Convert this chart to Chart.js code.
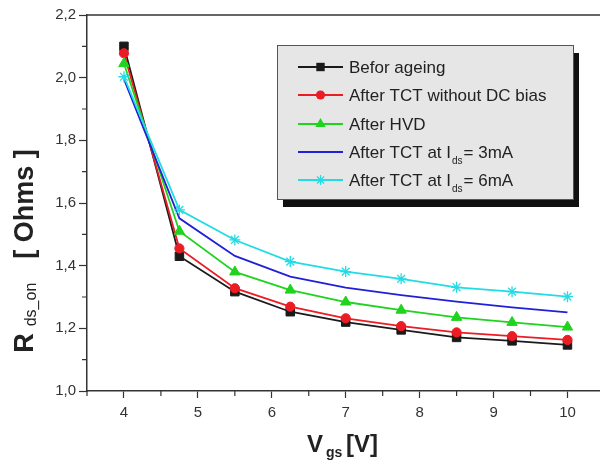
<!DOCTYPE html>
<html>
<head>
<meta charset="utf-8">
<script src="https://cdn.jsdelivr.net/npm/chart.js"></script>
<style>
body { margin: 0; background: #fff; }
#wrap { width: 600px; height: 461px; }
</style>
</head>
<body>
<div id="wrap"><canvas id="my_canvas" width="600" height="461"></canvas></div>
<script>
// Vgs [V]
var vgs = [4, 4.75, 5.5, 6.25, 7, 7.75, 8.5, 9.25, 10];

// Rds_on [Ohms] per condition
var beforAgeing = [2.100, 1.430, 1.317, 1.253, 1.220, 1.195, 1.171, 1.160, 1.147];
var tctNoBias   = [2.078, 1.455, 1.328, 1.269, 1.232, 1.207, 1.187, 1.175, 1.163];
var afterHvd    = [2.045, 1.510, 1.380, 1.322, 1.284, 1.258, 1.235, 1.219, 1.204];
var tct3mA      = [1.995, 1.551, 1.431, 1.365, 1.330, 1.306, 1.285, 1.267, 1.251];
var tct6mA      = [2.003, 1.578, 1.482, 1.413, 1.381, 1.358, 1.331, 1.317, 1.301];

var seriesNames = ['Befor ageing', 'After TCT without DC bias', 'After HVD', 'After TCT at I', 'After TCT at I'];

var FONT = "'Liberation Sans', Arial, sans-serif";

function pts(arr) {
    var out = [];
    for (var i in arr) {
        out.push({x: vgs[i], y: arr[i]});
    }
    return out;
}

function isWhole(v) { return Math.abs(v - Math.round(v)) < 1e-6; }
function isEvenTenth(v) { return Math.round(v * 10) % 2 === 0; }

function drawMarker(ctx, style, x, y, color) {
    ctx.save();
    ctx.fillStyle = color;
    ctx.strokeStyle = color;
    ctx.lineWidth = 1.2;
    ctx.beginPath();
    if (style === 'rect') {
        ctx.fillRect(x - 4.2, y - 4.2, 8.4, 8.4);
    } else if (style === 'circle') {
        ctx.arc(x, y, 4.6, 0, Math.PI * 2);
        ctx.fill();
    } else if (style === 'triangle') {
        ctx.moveTo(x, y - 6);
        ctx.lineTo(x + 5.2, y + 3);
        ctx.lineTo(x - 5.2, y + 3);
        ctx.closePath();
        ctx.fill();
    } else if (style === 'star') {
        for (var k = 0; k < 4; k++) {
            var a = k * Math.PI / 4;
            ctx.moveTo(x - Math.cos(a) * 5, y - Math.sin(a) * 5);
            ctx.lineTo(x + Math.cos(a) * 5, y + Math.sin(a) * 5);
        }
        ctx.stroke();
    }
    ctx.restore();
}

var extras = {
    id: 'extras',
    afterDraw: function(chart) {
        var ctx = chart.ctx;
        var area = chart.chartArea;
        var xs = chart.scales.x, ys = chart.scales.y;
        ctx.save();

        // top frame line
        ctx.strokeStyle = '#333';
        ctx.lineWidth = 1.5;
        ctx.beginPath();
        ctx.moveTo(area.left, area.top);
        ctx.lineTo(area.right, area.top);
        ctx.stroke();

        // minor ticks
        ctx.lineWidth = 1.2;
        ctx.beginPath();
        for (var v = 3.5; v <= 10.45; v += 0.5) {
            if (!isWhole(v)) {
                var px = xs.getPixelForValue(v);
                ctx.moveTo(px, area.bottom);
                ctx.lineTo(px, area.bottom + 5);
            }
        }
        for (var j = 10; j <= 22; j++) {
            if (j % 2 === 1) {
                var py = ys.getPixelForValue(j / 10);
                ctx.moveTo(area.left - 5, py);
                ctx.lineTo(area.left, py);
            }
        }
        ctx.stroke();

        // x axis title
        ctx.fillStyle = '#222';
        ctx.textBaseline = 'alphabetic';
        ctx.textAlign = 'left';
        ctx.font = 'bold 24px ' + FONT;
        ctx.fillText('V', 307, 452);
        ctx.font = 'bold 14px ' + FONT;
        ctx.fillText('gs', 326, 457);
        ctx.font = 'bold 24px ' + FONT;
        ctx.fillText('[V]', 346, 452);

        // y axis title (rotated)
        ctx.save();
        ctx.translate(33, 251);
        ctx.rotate(-Math.PI / 2);
        ctx.font = 'bold 27px ' + FONT;
        var wR = ctx.measureText('R').width;
        ctx.font = '16px ' + FONT;
        var wSub = ctx.measureText('ds_on').width;
        ctx.font = 'bold 27px ' + FONT;
        var wOhm = ctx.measureText('[ Ohms ]').width;
        var total = wR + 7 + wSub + 24 + wOhm;
        var cx = -total / 2;
        ctx.fillText('R', cx, 0);
        cx += wR + 7;
        ctx.font = '16px ' + FONT;
        ctx.fillText('ds_on', cx, 3);
        cx += wSub + 24;
        ctx.font = 'bold 27px ' + FONT;
        ctx.fillText('[ Ohms ]', cx, 0);
        ctx.restore();

        // legend box with shadow
        var bx = 277, by = 45, bw = 296, bh = 154;
        ctx.fillStyle = '#111';
        ctx.fillRect(bx + 6, by + 8, bw, bh);
        ctx.fillStyle = '#e6e6e6';
        ctx.fillRect(bx, by, bw, bh);
        ctx.strokeStyle = '#555';
        ctx.lineWidth = 1;
        ctx.strokeRect(bx + 0.5, by + 0.5, bw, bh);

        var rows = [67, 95, 124, 152, 180];
        var ds = chart.data.datasets;
        for (var i = 0; i < ds.length; i++) {
            var ry = rows[i];
            ctx.strokeStyle = ds[i].borderColor;
            ctx.lineWidth = 2;
            ctx.beginPath();
            ctx.moveTo(298, ry);
            ctx.lineTo(343, ry);
            ctx.stroke();
            if (ds[i].pointStyle && ds[i].pointRadius > 0) {
                drawMarker(ctx, ds[i].pointStyle, 320.5, ry, ds[i].borderColor);
            }
            ctx.fillStyle = '#222';
            ctx.font = '17px ' + FONT;
            ctx.fillText(seriesNames[i], 349, ry + 6);
            if (i >= 3) {
                var tx = 349 + ctx.measureText(seriesNames[i]).width;
                ctx.font = '10px ' + FONT;
                ctx.fillText('ds', tx + 1, ry + 12);
                tx += ctx.measureText('ds').width + 2;
                ctx.font = '17px ' + FONT;
                ctx.fillText(i === 3 ? '= 3mA' : '= 6mA', tx, ry + 6);
            }
        }
        ctx.restore();
    }
};

var chartdata = {
    datasets: [
        { label: 'Befor ageing', data: pts(beforAgeing), borderColor: '#1a1a1a', backgroundColor: '#1a1a1a',
          pointStyle: 'rect', pointRadius: 6, order: 5 },
        { label: 'After TCT without DC bias', data: pts(tctNoBias), borderColor: '#ec1c24', backgroundColor: '#ec1c24',
          pointStyle: 'circle', pointRadius: 4.6, order: 4 },
        { label: 'After HVD', data: pts(afterHvd), borderColor: '#1fd31f', backgroundColor: '#1fd31f',
          pointStyle: 'triangle', pointRadius: 6, order: 3 },
        { label: 'After TCT at Ids = 3mA', data: pts(tct3mA), borderColor: '#2020d8', backgroundColor: '#2020d8',
          pointStyle: 'circle', pointRadius: 0, order: 2 },
        { label: 'After TCT at Ids = 6mA', data: pts(tct6mA), borderColor: '#22dce4', backgroundColor: '#22dce4',
          pointStyle: 'star', pointRadius: 5.5, pointBorderWidth: 1.3, order: 1 }
    ]
};

var ctx = document.getElementById('my_canvas');

var graph = new Chart(ctx, {
    type: 'line',
    data: chartdata,
    plugins: [extras],
    options: {
        responsive: false,
        animation: false,
        devicePixelRatio: 1,
        layout: { autoPadding: false, padding: { top: 15, left: 0, right: 0, bottom: 0 } },
        elements: {
            line: { borderWidth: 1.8, tension: 0 },
            point: { borderWidth: 1, hoverRadius: 5 }
        },
        plugins: { legend: { display: false }, tooltip: { enabled: false } },
        scales: {
            x: {
                type: 'linear',
                min: 3.5,
                max: 10.44,
                afterFit: function(scale) {
                    scale.height = 70;
                    scale.paddingLeft = 0;
                    scale.paddingRight = 0;
                },
                border: { display: true, color: '#333', width: 1.5 },
                grid: {
                    drawOnChartArea: false,
                    drawTicks: true,
                    tickLength: 7,
                    tickWidth: 1.2,
                    tickColor: function(c) { return isWhole(c.tick.value) ? '#333' : 'rgba(0,0,0,0)'; }
                },
                ticks: {
                    stepSize: 0.5,
                    autoSkip: false,
                    maxRotation: 0,
                    includeBounds: false,
                    padding: 6,
                    color: '#333',
                    font: { family: FONT, size: 15 },
                    callback: function(v) { return isWhole(v) ? String(Math.round(v)) : ''; }
                }
            },
            y: {
                type: 'linear',
                min: 1.0,
                max: 2.2,
                afterFit: function(scale) { scale.width = 87; },
                border: { display: true, color: '#333', width: 1.5 },
                grid: {
                    drawOnChartArea: false,
                    drawTicks: true,
                    tickLength: 8,
                    tickWidth: 1.2,
                    tickColor: function(c) { return isEvenTenth(c.tick.value) ? '#333' : 'rgba(0,0,0,0)'; }
                },
                ticks: {
                    stepSize: 0.1,
                    autoSkip: false,
                    padding: 3,
                    color: '#333',
                    font: { family: FONT, size: 15 },
                    callback: function(v) { return isEvenTenth(v) ? v.toFixed(1).replace('.', ',') : ''; }
                }
            }
        }
    }
});
</script>
</body>
</html>
